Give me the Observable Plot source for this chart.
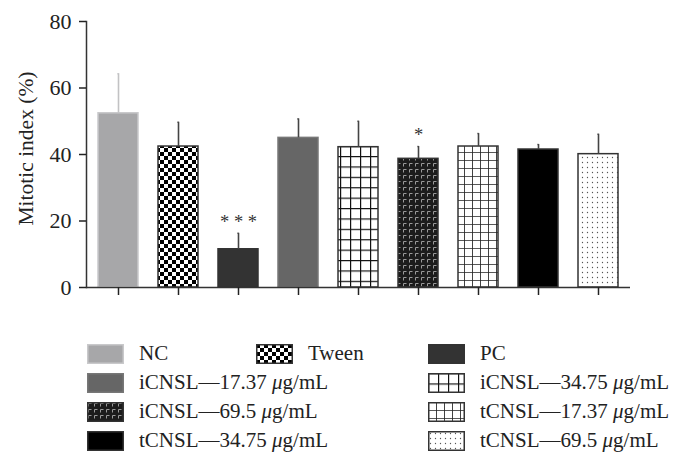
<!DOCTYPE html>
<html>
<head>
<meta charset="utf-8">
<script src="https://cdn.jsdelivr.net/npm/d3@7"></script>
<script src="https://cdn.jsdelivr.net/npm/@observablehq/plot@0.6"></script>
<style>
  body { margin: 0; background: #fff; }
  #chart { width: 683px; }
  #legend {
    display: grid;
    grid-template-columns: 169px 172px auto;
    grid-auto-rows: 29px;
    padding-left: 87px;
    margin-top: 39px;
    font-family: "Liberation Serif", "Times New Roman", serif;
    font-size: 21px;
    color: #222;
  }
  .item { display: flex; align-items: center; gap: 15px; white-space: nowrap; }
  .item svg { flex: none; }
</style>
</head>
<body>
<svg width="0" height="0" style="position:absolute">
  <defs>
    <pattern id="checker" width="8" height="8" patternUnits="userSpaceOnUse">
      <rect width="8" height="8" fill="#fff"/>
      <rect width="4" height="4" fill="#000"/>
      <rect x="4" y="4" width="4" height="4" fill="#000"/>
    </pattern>
    <pattern id="grid10" width="10" height="10.4" patternUnits="userSpaceOnUse">
      <rect width="10" height="10.4" fill="#fff"/>
      <path d="M0 0H10M0 0V10.4" stroke="#111" stroke-width="2.4"/>
    </pattern>
    <pattern id="grid8" width="8" height="8" patternUnits="userSpaceOnUse">
      <rect width="8" height="8" fill="#fff"/>
      <path d="M0 0H8M0 0V8" stroke="#222" stroke-width="1.7"/>
    </pattern>
    <pattern id="marks" width="6" height="6" patternUnits="userSpaceOnUse">
      <rect width="6" height="6" fill="#1c1c1c"/>
      <path d="M1.5 1.5H4.5M1.5 1.5V4.5" stroke="#9a9a9a" stroke-width="1"/>
    </pattern>
    <pattern id="dots" width="5" height="5" patternUnits="userSpaceOnUse">
      <rect width="5" height="5" fill="#fff"/>
      <circle cx="2.5" cy="2.5" r="0.65" fill="#555"/>
    </pattern>
  </defs>
</svg>
<div id="chart"></div>
<script>
// ---- data ----
const groups = ["NC", "Tween", "PC", "iCNSL—17.37 μg/mL", "iCNSL—34.75 μg/mL", "iCNSL—69.5 μg/mL", "tCNSL—17.37 μg/mL", "tCNSL—34.75 μg/mL", "tCNSL—69.5 μg/mL"];
const means = [52.4, 42.4, 11.5, 45.0, 42.2, 38.7, 42.4, 41.5, 40.1];
const errors = [11.9, 7.3, 4.8, 5.7, 7.8, 3.7, 3.9, 1.5, 6.0];
const significance = ["", "", "***", "", "", "*", "", "", ""];
const yTicks = [0, 20, 40, 60, 80];
const yLabel = "Mitotic index (%)";

// ---- styles ----
const fillOf = {
  "NC": "#a7a7a9",
  "Tween": "url(#checker)",
  "PC": "#333333",
  "iCNSL—17.37 μg/mL": "#666666",
  "iCNSL—34.75 μg/mL": "url(#grid10)",
  "iCNSL—69.5 μg/mL": "url(#marks)",
  "tCNSL—17.37 μg/mL": "url(#grid8)",
  "tCNSL—34.75 μg/mL": "#000000",
  "tCNSL—69.5 μg/mL": "url(#dots)"
};
const strokeOf = g => g === "NC" ? "#c9c9cb" : g === "iCNSL—17.37 μg/mL" ? "#777" : "#333";
const errColorOf = g => g === "NC" ? "#c2c2c4" : "#444";

// legend layout: [row, column]
const legendCells = [[1,1],[1,2],[1,3],[2,1],[2,3],[3,1],[3,3],[4,1],[4,3]];

const data = groups.map((g, i) => ({group: g, mean: means[i], err: errors[i], sig: significance[i]}));

const chart = Plot.plot({
  width: 683,
  height: 300,
  marginLeft: 86,
  marginRight: 53,
  marginTop: 21,
  marginBottom: 13,
  x: {domain: groups, paddingInner: 0.33, paddingOuter: 0.165, label: null},
  y: {domain: [0, 80]},
  color: {type: "identity"},
  style: {fontFamily: "'Liberation Serif', 'Times New Roman', serif", fontSize: "21px", color: "#222", background: "#fff"},
  marks: [
    Plot.barY(data, {x: "group", y: "mean", fill: d => fillOf[d.group], stroke: d => strokeOf(d.group), strokeWidth: 1.5}),
    Plot.ruleX(data, {x: "group", y1: "mean", y2: d => d.mean + d.err, stroke: d => errColorOf(d.group), strokeWidth: 1.6}),
    Plot.tickY(data, {x: "group", y: d => d.mean + d.err, stroke: d => errColorOf(d.group), strokeWidth: 1.6, insetLeft: 20.5, insetRight: 20.5}),
    Plot.text(data, {x: "group", y: d => d.mean + d.err, text: d => d.sig.split("").join(" "), dy: -11, fontSize: 18.5, fill: "#333"}),
    Plot.ruleY([0], {stroke: "#333", strokeWidth: 1.5}),
    Plot.frame({anchor: "left", stroke: "#333", strokeWidth: 1.5}),
    Plot.axisY({ticks: yTicks, tickSize: 7, tickPadding: 8, strokeWidth: 1.5, fontSize: 22, label: null}),
    Plot.text([yLabel], {text: d => d, frameAnchor: "left", textAnchor: "middle", rotate: -90, dx: -60, dy: -6, lineAnchor: "middle", fontSize: 21.5, fill: "#222"}),
    Plot.axisX({tickSize: 8, strokeWidth: 1.5, tickFormat: () => "", label: null})
  ]
});
document.getElementById("chart").appendChild(chart);

// ---- legend ----
const legend = document.createElement("div");
legend.id = "legend";
groups.forEach((g, i) => {
  const item = document.createElement("div");
  item.className = "item";
  item.style.gridRow = legendCells[i][0];
  item.style.gridColumn = legendCells[i][1];
  const sw = `<svg width="37" height="20"><rect x="0.75" y="0.75" width="35.5" height="18.5" fill="${fillOf[g]}" stroke="${strokeOf(g)}" stroke-width="1.5"/></svg>`;
  const label = g.replace("μ", "<i>μ</i>");
  item.innerHTML = sw + `<span>${label}</span>`;
  legend.appendChild(item);
});
document.body.appendChild(legend);
</script>
</body>
</html>
